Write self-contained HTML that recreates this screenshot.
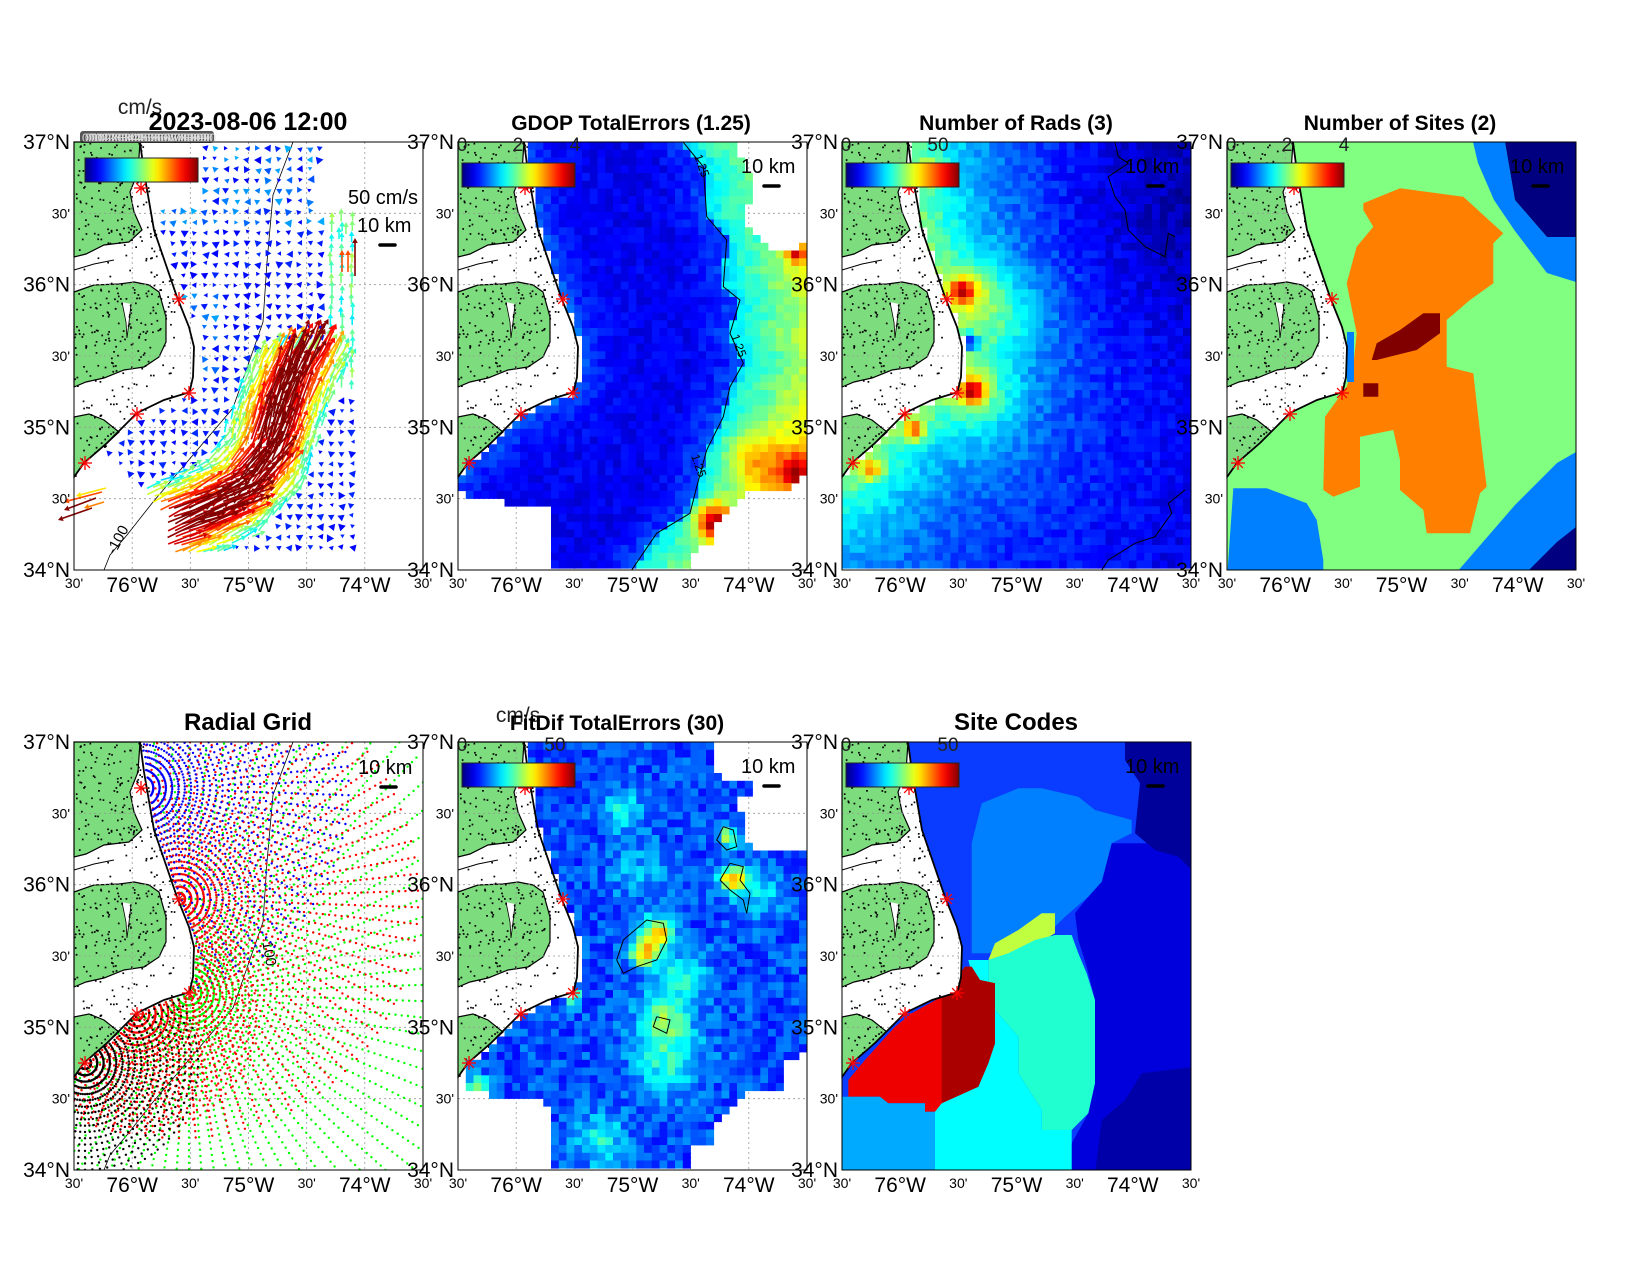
<!DOCTYPE html>
<html><head><meta charset="utf-8"><style>
body{margin:0;background:#fff;}
svg{display:block;font-family:"Liberation Sans",sans-serif;}
</style></head><body>
<svg id="s" width="1650" height="1275" xmlns="http://www.w3.org/2000/svg"></svg>
<script>
const W=349,H=428;
let seed=12345;function rnd(){seed=(seed*1664525+1013904223)%4294967296;return seed/4294967296;}
function cl(v){return v<0?0:v>1?1:v;}
function jet(v){v=cl(v);const r=cl(1.5-Math.abs(4*v-3)),g=cl(1.5-Math.abs(4*v-2)),b=cl(1.5-Math.abs(4*v-1));return `rgb(${Math.round(r*255)},${Math.round(g*255)},${Math.round(b*255)})`;}
function gs(x,y,cx,cy,r){return Math.exp(-((x-cx)*(x-cx)+(y-cy)*(y-cy))/(r*r));}
const coastN=[[66,0],[70,30],[80,88],[103,155],[115,185],[120,205],[119,235],[116,248],[113,251]];
const coastS=[[113,251],[90,258],[63,271],[33,301],[10,321],[0,335]];
const coastAll=coastN.concat(coastS.slice(1));
function ixy(pts,y){for(let i=0;i<pts.length-1;i++){const [x1,y1]=pts[i],[x2,y2]=pts[i+1];if(y>=y1&&y<=y2)return x1+(x2-x1)*(y-y1)/((y2-y1)||1);}return pts[pts.length-1][0];}
function isOcean(x,y){if(x<0||y<0||x>W||y>H)return false;if(y<=251)return x>ixy(coastN,y)+2;if(x>=113)return true;
 for(let i=0;i<coastS.length-1;i++){const [x1,y1]=coastS[i],[x2,y2]=coastS[i+1];if(x<=x1&&x>=x2){const cy=y1+(y2-y1)*(x-x1)/(x2-x1);return y>cy+2;}}return true;}
function dseg(px,py,a,b){const dx=b[0]-a[0],dy=b[1]-a[1];let t=((px-a[0])*dx+(py-a[1])*dy)/(dx*dx+dy*dy);t=cl(t);const qx=a[0]+t*dx,qy=a[1]+t*dy;return Math.hypot(px-qx,py-qy);}
function dpoly(pts,x,y){let best=1e9,bi=0;for(let i=0;i<pts.length-1;i++){const d=dseg(x,y,pts[i],pts[i+1]);if(d<best){best=d;bi=i;}}return [best,bi];}
function pip(poly,x,y){let c=false;for(let i=0,j=poly.length-1;i<poly.length;j=i++){const [xi,yi]=poly[i],[xj,yj]=poly[j];if(((yi>y)!=(yj>y))&&(x<(xj-xi)*(y-yi)/(yj-yi)+xi))c=!c;}return c;}
function zc(l,ox,oy){return l.map(p=>[p[0]/3+ox,p[1]/3+oy]);}
function pts(l){return l.map(p=>p[0].toFixed(1)+','+p[1].toFixed(1)).join(' ');}
function T(x,y,s,sz,anc,wt,ex){return `<text x="${x}" y="${y}" font-size="${sz}" text-anchor="${anc||'start'}" font-weight="${wt||'normal'}" ${ex||''}>${s}</text>`;}

const panels=[[74,142],[458,142],[842,142],[1227,142],[74,742],[458,742],[842,742]];
let defs=`<defs><linearGradient id="jg" x1="0" x2="1" y1="0" y2="0">`;
for(let i=0;i<=20;i++)defs+=`<stop offset="${i/20}" stop-color="${jet(i/20)}"/>`;
defs+=`</linearGradient><clipPath id="oc" clipPathUnits="userSpaceOnUse"><polygon points="${pts(coastAll.concat([[0,428],[349,428],[349,0]]))}"/></clipPath><clipPath id="pr" clipPathUnits="userSpaceOnUse"><rect x="0" y="0" width="349" height="428"/></clipPath></defs>`;

const landN=[[0,0],[66,0],[64,30],[56,50],[60,70],[68,88],[55,100],[30,103],[12,112],[0,115]];
const landP=[[0,150],[20,143],[45,142],[60,140],[75,143],[85,150],[92,175],[92,200],[85,215],[70,225],[50,228],[30,236],[12,240],[0,245]];
const landS=[[0,275],[15,272],[30,278],[45,290],[33,301],[10,321],[0,335]];
let landStr=`<g stroke="#000" stroke-width="1.2" fill="#7ddc7d">`+[landN,landP,landS].map(p=>`<polygon points="${pts(p)}"/>`).join('')+`</g>`;
landStr+=`<path d="M48,160 L52,180 L53,196 L55,180 L57,162" fill="#fff" stroke="#000" stroke-width="0.8"/>`;
landStr+=`<path d="M0,128 L20,122 L40,118" fill="none" stroke="#000" stroke-width="1"/>`;
seed=777;
for(let k=0;k<600;k++){const x=rnd()*100,y=rnd()*340;if(isOcean(x,y))continue;const inl=pip(landN,x,y)||pip(landP,x,y)||pip(landS,x,y);const nearC=Math.abs(x-ixy(coastN,Math.min(y,251)))<18;if(!inl&&!nearC&&rnd()<0.7)continue;landStr+=`<rect x="${x.toFixed(1)}" y="${y.toFixed(1)}" width="1.7" height="1.7" fill="#000"/>`;}
const gridStr=(()=>{let s='<g stroke="#999" stroke-width="0.8" stroke-dasharray="2,3">';[58.2,116.3,174.5,232.7,290.8].forEach(x=>s+=`<line x1="${x}" y1="0" x2="${x}" y2="428"/>`);[71.3,142.7,214,285.3,356.7].forEach(y=>s+=`<line x1="0" y1="${y}" x2="349" y2="${y}"/>`);return s+'</g>';})();
const coastLine=`<polyline points="${pts(coastAll)}" fill="none" stroke="#000" stroke-width="1.8"/>`;
const sites=[[67,46],[105,157],[115,251],[63,272],[11,321]];
function star(x,y){let s='';for(let a=0;a<4;a++){const t=a*Math.PI/4;s+=`<line x1="${(x-7*Math.cos(t)).toFixed(1)}" y1="${(y-7*Math.sin(t)).toFixed(1)}" x2="${(x+7*Math.cos(t)).toFixed(1)}" y2="${(y+7*Math.sin(t)).toFixed(1)}"/>`;}return s;}
const starStr=`<g stroke="#f00" stroke-width="1.3">`+sites.map(p=>star(p[0],p[1])).join('')+`</g>`;
function grid(fn,mask){let s='';const c=7.75;for(let j=0;j<56;j++)for(let i=0;i<46;i++){const x0=i*c,y0=j*c,cx=x0+c/2,cy=y0+c/2;if(!isOcean(cx,cy)||(mask&&!mask(cx,cy)))continue;s+=`<rect x="${x0.toFixed(1)}" y="${y0.toFixed(1)}" width="8.1" height="8.1" fill="${jet(fn(cx,cy))}"/>`;}return `<g clip-path="url(#pr)">${s}</g>`;}
function cbar(x,y,labels){let s=`<rect x="${x}" y="${y}" width="113" height="24" fill="url(#jg)" stroke="#222" stroke-width="1"/>`;labels.forEach(l=>s+=T(x+l[0],y-12,l[1],19,'middle','normal','fill="#222"'));return s;}
function km(x,y){return T(x,y,'10 km',20,'start')+`<line x1="${x+23}" y1="${y+13}" x2="${x+38}" y2="${y+13}" stroke="#000" stroke-width="3.5" stroke-linecap="round"/>`;}
const depth=[[219,0],[199,53],[193,120],[189,180],[159,266],[119,313],[79,360],[53,393],[36,413],[30,428]];
const depthStr=`<polyline points="${pts(depth)}" fill="none" stroke="#000" stroke-width="0.8"/>`;

let out=defs;
function panelWrap(i,content){const [px,py]=panels[i];return `<g transform="translate(${px},${py})">${content}<rect x="0" y="0" width="349" height="428" fill="none" stroke="#000" stroke-width="1"/></g>`;}
function axesLabels(i){const [px,py]=panels[i];let s='';
 [[0,'37°N',1],[71.3,"30'",0],[142.7,'36°N',1],[214,"30'",0],[285.3,'35°N',1],[356.7,"30'",0],[428,'34°N',1]].forEach(l=>{s+=T(px-4,py+l[0]+(l[2]?7:5),l[1],l[2]?21:14,'end');});
 [[0,"30'",0],[58.2,'76°W',1],[116.3,"30'",0],[174.5,'75°W',1],[232.7,"30'",0],[290.8,'74°W',1],[349,"30'",0]].forEach(l=>{s+=T(px+l[0],py+428+(l[2]?22:18),l[1],l[2]?21:14,'middle');});
 return s;}

// Panel 1
(function(){seed=99;let s=landStr+gridStr+depthStr;
 s+=T(48,400,'-100',15,'middle','normal','transform="rotate(-62 48 400)"');
 const J=[[233,205],[218,235],[203,275],[190,318],[162,352],[122,372],[90,385]];
 function lbX(py){if(py<313)return -1e9;if(py<370)return 36+(py-313)*50/57;return 86+(py-370)*10/40;}
 function inDom(x,y){if(!isOcean(x-4,y))return false;if(y>410)return false;if(x<lbX(y))return false;const rb=y<70?246:283;if(x>rb)return false;if(y<60&&x<125)return false;return true;}
 function sval(x,y){let [d,si]=dpoly(J,x,y);let sv=Math.exp(-(d/36)*(d/36));if(y<215)sv*=Math.max(0,1-(215-y)/15);return [sv,si];}
 let arrB='',arrJ=[];
 for(let gy=5;gy<420;gy+=10.5)for(let gx=5;gx<300;gx+=10.5){
  const x=gx+(rnd()-0.5)*2,y=gy+(rnd()-0.5)*2;
  if(!inDom(x,y))continue;
  const [sv]=sval(x,y);
  if(sv>0.2)continue;
  if(x>250&&y>70&&y<250){const v=0.35+rnd()*0.2;arrJ.push([x,y,0,-1,8+rnd()*6,v]);continue;}
  const a=Math.PI/2+(rnd()-0.5)*1.2;const hs=3.5+rnd()*3.5;const c=(y<80&&rnd()<0.5)||(y>150&&y<230&&x<150&&rnd()<0.6)?jet(0.2+rnd()*0.1):jet(0.12+rnd()*0.05);
  const ux=Math.cos(a),uy=Math.sin(a);const tx=x+ux*hs,ty=y+uy*hs;
  arrB+=`<polygon points="${tx.toFixed(1)},${ty.toFixed(1)} ${(x-uy*hs*0.6).toFixed(1)},${(y+ux*hs*0.6).toFixed(1)} ${(x+uy*hs*0.6).toFixed(1)},${(y-ux*hs*0.6).toFixed(1)}" fill="${c}"/>`;
 }
 for(let gy=3;gy<420;gy+=7)for(let gx=3;gx<300;gx+=7){
  const x=gx+(rnd()-0.5)*2,y=gy+(rnd()-0.5)*2;
  if(!inDom(x,y))continue;const [sv,si]=sval(x,y);if(sv<=0.2)continue;
  const a=J[si],b=J[si+1];let tx=a[0]-b[0],ty=a[1]-b[1];const n=Math.hypot(tx,ty);tx/=n;ty/=n;
  const ang=(rnd()-0.5)*0.3;const cx=tx*Math.cos(ang)-ty*Math.sin(ang),cy=tx*Math.sin(ang)+ty*Math.cos(ang);
  const v=cl(0.25+0.78*sv+(rnd()-0.5)*0.18);arrJ.push([x,y,cx,cy,6+40*sv,v]);}
 arrJ.sort((a,b)=>a[5]-b[5]);
 let aj='';
 function arrow(x,y,ux,uy,L,col){const tx=x+ux*L,ty=y+uy*L;const h=5,w=2.8;const bx=tx-ux*h,by=ty-uy*h;
  return `<line x1="${x.toFixed(1)}" y1="${y.toFixed(1)}" x2="${bx.toFixed(1)}" y2="${by.toFixed(1)}" stroke="${col}" stroke-width="1.6"/><polygon points="${tx.toFixed(1)},${ty.toFixed(1)} ${(bx-uy*w).toFixed(1)},${(by+ux*w).toFixed(1)} ${(bx+uy*w).toFixed(1)},${(by-ux*w).toFixed(1)}" fill="${col}"/>`;}
 arrJ.forEach(a=>aj+=arrow(a[0],a[1],a[2],a[3],a[4],jet(a[5])));
 [[268,130,22,0.8],[274,130,22,0.8],[281,134,38,1.0],[265,97,12,0.4],[272,92,12,0.5]].forEach(a=>aj+=arrow(a[0],a[1],0,-1,a[2],jet(a[3])));
 [[22,356,-32,12,1.0],[28,350,-38,10,0.8],[32,346,-30,8,0.65],[18,366,-34,12,1.0],[30,360,-20,6,0.75]].forEach(a=>{const L=Math.hypot(a[2],a[3]);aj+=arrow(a[0],a[1],a[2]/L,a[3]/L,L,jet(a[4]));});
 s+=arrB+aj+coastLine+starStr;
 s+=`<rect x="6" y="-11" width="134" height="12" rx="3" fill="#555"/>`;
 for(let k=0;k<4;k++)s+=T(8+k*3,0,'0102030405060708090',12,'start','normal','fill="#ddd" textLength="125" lengthAdjust="spacingAndGlyphs"');
 s+=cbar(11,16,[]);
 s+=T(274,62,'50 cm/s',20,'start')+km(283,90);
 out+=panelWrap(0,s);
 out+=T(140,114,'cm/s',21,'middle','normal','fill="#222"');
 out+=T(248,130,'2023-08-06 12:00',25,'middle','bold');
})();

// Panel 2
(function(){seed=202;
 const C=zc([[700,127],[760,200],[770,350],[830,420],[820,560],[870,600],[840,700],[880,790],[840,860],[820,950],[770,1050],[740,1160],[720,1240],[620,1300],[545,1410]],-8,-42);
 const E1=zc([[860,127],[1070,127],[1070,430],[1000,470],[940,430],[900,400],[890,340],[900,290],[910,250],[880,200],[860,150]],-8,-42);
 const E2=zc([[0,1170],[60,1190],[180,1210],[300,1212],[300,1440],[0,1440]],-8,-42);
 const E3=zc([[710,1440],[710,1400],[740,1340],[800,1320],[800,1260],[830,1230],[860,1200],[900,1165],[960,1165],[1010,1170],[1070,1120],[1070,1440]],-8,-42);
 function xc(y){return ixy(C,y);}
 function fn(x,y){const d=x-xc(y);const dc=dpoly(coastAll,x,y)[0];let v;
  if(d<0)v=0.11+0.13*Math.exp(-dc/18)+0.08*cl((d+45)/45);
  else v=0.35+d*0.003;
  v+=0.5*gs(x,y,255,378,18)+0.3*gs(x,y,338,330,16)+0.35*gs(x,y,338,112,10)+0.2*gs(x,y,300,320,35);
  return v+(rnd()-0.5)*0.07;}
 function mask(x,y){return !pip(E1,x,y)&&!pip(E2,x,y)&&!pip(E3,x,y);}
 let s=landStr+gridStr+grid(fn,mask)+`<polyline points="${pts(C)}" fill="none" stroke="#000" stroke-width="1"/>`;
 s+=T(240,25,'1.25',12,'middle','normal','transform="rotate(70 240 25)"')+T(277,205,'1.25',12,'middle','normal','transform="rotate(70 277 205)"')+T(237,325,'1.25',12,'middle','normal','transform="rotate(70 237 325)"');
 s+=coastLine+starStr+cbar(4,21,[[0,'0'],[56,'2'],[113,'4']])+km(283,31);
 out+=panelWrap(1,s);
 out+=T(631,130,'GDOP TotalErrors (1.25)',21,'middle','bold');
})();

// Panel 3
(function(){seed=303;
 function fn(x,y){const dc=dpoly(coastAll,x,y)[0];let v=0.15+0.38*Math.exp(-dc/75)-0.05*(x/349)-0.07*gs(x,y,349,60,120);
  v+=0.42*gs(x,y,120,148,12)+0.42*gs(x,y,131,250,12)+0.12*gs(x,y,135,150,30)+0.12*gs(x,y,140,250,30)+0.35*gs(x,y,73,288,11)+0.28*gs(x,y,30,328,11)+0.25*gs(x,y,90,31,12)+0.1*gs(x,y,160,170,40)-0.35*gs(x,y,127,200,9);
  return v+(rnd()-0.5)*0.08;}
 let s=landStr+gridStr+grid(fn,null);
 s+=`<polyline points="${pts(zc([[840,127],[850,170],[880,190],[820,230],[840,290],[870,330],[880,390],[930,440],[990,470],[1000,400],[1020,410]],-7,-42))}" fill="none" stroke="#000" stroke-width="1"/>`;
 s+=`<polyline points="${pts(zc([[1050,1170],[1000,1210],[1010,1240],[960,1310],[900,1330],[820,1380],[800,1410]],-7,-42))}" fill="none" stroke="#000" stroke-width="1"/>`;
 s+=coastLine+starStr+cbar(4,21,[[0,'0'],[92,'50']])+km(283,31);
 out+=panelWrap(2,s);
 out+=T(1016,130,'Number of Rads (3)',21,'middle','bold');
})();

// Panel 4
(function(){
 const o=-67,oy=-42;
 const orange=zc([[610,310],[720,265],[910,290],[1030,400],[1000,430],[1000,550],[930,600],[860,660],[860,800],[940,820],[950,910],[970,1080],[980,1160],[960,1180],[930,1300],[800,1300],[790,1230],[720,1170],[720,1080],[700,990],[600,1010],[600,1160],[520,1190],[490,1170],[495,950],[560,860],[580,800],[590,700],[560,550],[590,440],[640,380],[610,330]],o,oy);
 const dred=zc([[635,780],[650,730],[720,690],[790,640],[840,640],[840,700],[770,750],[650,780]],o,oy);
 const dred2=zc([[610,850],[655,850],[655,890],[610,890]],o,oy);
 const blueBL=zc([[220,1165],[320,1165],[440,1210],[470,1260],[490,1380],[490,1450],[200,1450]],o,oy);
 const blueBR=[[230,430],[288,363],[330,321],[349,310],[349,430]];
 const dkBR=[[300,430],[330,400],[349,385],[349,430]];
 const blueTR=[[246,0],[278,0],[288,58],[320,95],[349,95],[349,140],[320,131],[288,89],[267,58],[251,21]];
 const dkTR=[[278,0],[349,0],[349,95],[320,95],[288,58]];
 let s=landStr+gridStr+`<g clip-path="url(#oc)"><rect x="0" y="0" width="349" height="428" fill="rgb(128,255,128)"/>`;
 [[orange,'#ff8000'],[dred,'#800000'],[dred2,'#800000'],[blueBL,'#0080ff'],[blueBR,'#0080ff'],[dkBR,'#000080'],[blueTR,'#0080ff'],[dkTR,'#000080']].forEach(p=>s+=`<polygon points="${pts(p[0])}" fill="${p[1]}"/>`);
 s+=`<rect x="120" y="190" width="7" height="50" fill="#0080ff"/>`;
 s+=`</g>`+coastLine+starStr+cbar(4,21,[[0,'0'],[56,'2'],[113,'4']])+km(283,31);
 out+=panelWrap(3,s);
 out+=T(1400,130,'Number of Sites (2)',21,'middle','bold');
})();

// Panel 5
(function(){let s=landStr+gridStr+depthStr;
 s+=T(190,210,'-100',15,'middle','normal','transform="rotate(80 190 210)"');
 const cfg=[[2,'#0f0',330],[1,'#f00',240],[0,'#00f',210],[3,'#f00',120],[4,'#000',115]];
 let d='';
 cfg.forEach(c=>{const [sx,sy]=sites[c[0]];let g=`<g fill="${c[1]}">`;
  for(let r=6;r<=c[2];r+=6.3){for(let a=-90;a<=270;a+=4){const t=a*Math.PI/180;const x=sx+r*Math.cos(t),y=sy+r*Math.sin(t);if(!isOcean(x,y))continue;g+=`<circle cx="${x.toFixed(1)}" cy="${y.toFixed(1)}" r="1.2"/>`;}}
  d+=g+'</g>';});
 s+=`<g clip-path="url(#pr)">${d}</g>`+coastLine+starStr+km(284,32);
 out+=panelWrap(4,s);
 out+=T(248,730,'Radial Grid',24,'middle','bold');
})();

// Panel 6
(function(){seed=606;
 const D=zc([[0,127],[780,127],[780,180],[830,240],[910,240],[915,290],[870,300],[880,420],[940,460],[1070,440],[1070,1050],[1000,1090],[1000,1165],[900,1165],[860,1200],[800,1260],[800,1330],[710,1330],[710,1410],[300,1410],[300,1210],[140,1190],[45,1170],[45,1140],[0,1100]],-8,-42);
 function fn(x,y){let v=0.2+(rnd()-0.5)*0.14;
  v+=0.5*gs(x,y,200,190,15)+0.5*gs(x,y,186,212,14)+0.5*gs(x,y,275,138,13)+0.38*gs(x,y,270,95,10)+0.25*gs(x,y,205,278,25)+0.2*gs(x,y,209,318,35)+0.2*gs(x,y,225,235,25)+0.18*gs(x,y,165,68,20)+0.2*gs(x,y,142,398,25)+0.25*gs(x,y,19,345,12)+0.38*gs(x,y,115,255,8)+0.15*gs(x,y,300,150,25)+0.1*gs(x,y,180,130,30);
  return v;}
 let s=landStr+gridStr+grid(fn,(x,y)=>pip(D,x,y));
 [[[500,780],[520,720],[590,660],[640,670],[650,720],[620,780],[560,800],[520,820],[500,780]],[[820,380],[800,420],[830,450],[860,440],[850,390],[820,380]],[[840,490],[810,540],[840,570],[880,600],[890,640],[900,580],[870,540],[880,500],[840,490]],[[620,950],[610,980],[650,1000],[660,960],[620,950]]].forEach(p=>s+=`<polyline points="${pts(zc(p,-8,-42))}" fill="none" stroke="#000" stroke-width="1"/>`);
 s+=coastLine+starStr+cbar(4,21,[[0,'0'],[93,'50']])+km(283,31);
 out+=panelWrap(5,s);
 out+=T(518,722,'cm/s',21,'middle','normal','fill="#222"');
 out+=T(617,730,'FitDif TotalErrors (30)',21,'middle','bold');
})();

// Panel 7
(function(){const o=-7,oy=-42;
 const P=(l,c)=>`<polygon points="${pts(zc(l,o,oy))}" fill="${c}"/>`;
 let s=landStr+gridStr+`<g clip-path="url(#oc)"><rect x="0" y="0" width="349" height="428" fill="#0a3cff"/>`;
 s+=P([[720,640],[760,590],[800,545],[830,430],[1080,430],[1080,1420],[700,1420],[710,1330],[760,1240],[780,1150],[780,900],[755,800],[730,720]],'#0000dd');
 s+=P([[870,120],[1080,120],[1080,520],[1030,470],[960,450],[900,400],[915,250],[870,180]],'#00009a');
 s+=P([[780,1420],[800,1260],[870,1200],[920,1120],[1080,1100],[1080,1420]],'#0000a8');
 s+=P([[410,430],[440,310],[550,265],[620,265],[730,290],[780,330],[890,360],[890,400],[830,430],[800,545],[760,590],[690,650],[640,700],[460,760],[410,760],[410,640]],'#0080ff');
 s+=P([[460,780],[480,730],[550,690],[620,640],[660,640],[660,700],[590,740],[500,775]],'#c0ff40');
 s+=P([[460,780],[520,760],[600,720],[660,705],[710,705],[730,760],[755,820],[780,900],[780,1150],[760,1240],[710,1290],[620,1290],[620,1230],[550,1120],[550,1010],[480,930],[460,900]],'#20ffd0');
 s+=P([[400,780],[460,780],[460,900],[480,930],[550,1010],[550,1120],[620,1230],[620,1290],[710,1290],[710,1420],[300,1420],[300,1210],[430,1100],[460,1040],[480,960],[440,920],[410,820]],'#00ffff');
 s+=P([[40,1140],[90,1080],[135,1030],[180,980],[230,940],[275,915],[320,890],[390,800],[410,800],[435,840],[480,850],[480,1030],[460,1090],[430,1160],[320,1210],[300,1235],[270,1235],[270,1210],[160,1210],[135,1190],[40,1190]],'#ee0000');
 s+=P([[320,890],[390,800],[410,800],[435,840],[480,850],[480,1030],[460,1090],[430,1160],[320,1210]],'#aa0000');
 s+=P([[0,1190],[135,1190],[160,1210],[270,1210],[270,1235],[300,1235],[300,1420],[0,1420]],'#00aaff');
 s+=`</g>`+coastLine+starStr+cbar(4,21,[[0,'0'],[102,'50']])+km(283,31);
 out+=panelWrap(6,s);
 out+=T(1016,730,'Site Codes',24,'middle','bold');
})();

for(let i=0;i<7;i++)out+=axesLabels(i);
document.getElementById('s').innerHTML=out;
</script>
</body></html>
